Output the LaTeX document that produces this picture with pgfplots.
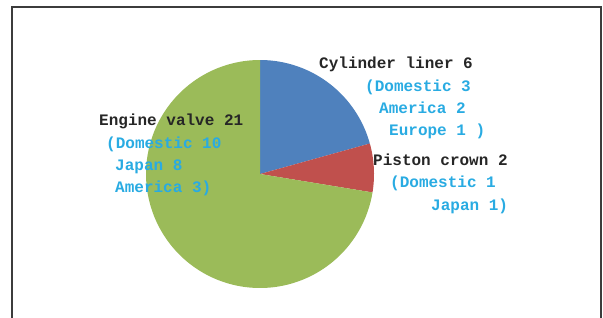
\documentclass[border=0pt]{standalone}
\usepackage{pgfplots}
\pgfplotsset{compat=1.18}
\usepackage{pgfplotstable}
\usepackage{fontspec}
\setmainfont{Liberation Serif}
\newfontfamily\labfont{Liberation Mono}
\definecolor{pieblue}{HTML}{4F81BD}
\definecolor{piered}{HTML}{C0504D}
\definecolor{piegreen}{HTML}{9BBB59}
\definecolor{labblue}{RGB}{41,171,226}
\definecolor{framegray}{RGB}{60,60,60}

\pgfplotstableread{
part value
liner 6
crown 2
valve 21
}\piedata

\begin{document}
\begin{tikzpicture}
\pgfplotstablegetelem{0}{value}\of\piedata \let\va\pgfplotsretval
\pgfplotstablegetelem{1}{value}\of\piedata \let\vb\pgfplotsretval
\pgfplotstablegetelem{2}{value}\of\piedata \let\vc\pgfplotsretval
\pgfmathsetmacro\tot{\va+\vb+\vc}
\pgfmathsetmacro\aA{90}
\pgfmathsetmacro\aB{90-360*\va/\tot}
\pgfmathsetmacro\aC{\aB-360*\vb/\tot}
\pgfmathsetmacro\aD{\aC-360*\vc/\tot}
\begin{axis}[scale only axis, width=603bp, height=318bp,
  xmin=0, xmax=603, ymin=0, ymax=318, y dir=reverse,
  hide axis, clip=false]
\addplot[draw=none, fill=pieblue, domain=\aB:\aA, samples=80, variable=\t]
  ({260+114*cos(\t)},{174-114*sin(\t)}) -- (260,174) -- cycle;
\addplot[draw=none, fill=piered, domain=\aC:\aB, samples=40, variable=\t]
  ({260+114*cos(\t)},{174-114*sin(\t)}) -- (260,174) -- cycle;
\addplot[draw=none, fill=piegreen, domain=\aD:\aC, samples=200, variable=\t]
  ({260+114*cos(\t)},{174-114*sin(\t)}) -- (260,174) -- cycle;

\draw[framegray, line width=1.3bp] (12,318) -- (12,7) -- (601,7) -- (601,318);

\tikzset{lab/.style={anchor=base west, inner sep=0pt, font=\labfont\bfseries\fontsize{16bp}{18bp}\selectfont}}
\node[lab, text=black!85] at (319,68) {Cylinder liner 6};
\node[lab, text=labblue] at (365,91) {(Domestic 3};
\node[lab, text=labblue] at (379,113) {America 2};
\node[lab, text=labblue] at (389,135) {Europe 1 )};
\node[lab, text=black!85] at (373,165) {Piston crown 2};
\node[lab, text=labblue] at (390,187) {(Domestic 1};
\node[lab, text=labblue] at (431,210) {Japan 1)};
\node[lab, text=black!85] at (99,125) {Engine valve 21};
\node[lab, text=labblue] at (106,148) {(Domestic 10};
\node[lab, text=labblue] at (115,170) {Japan 8};
\node[lab, text=labblue] at (115,192) {America 3)};
\end{axis}
\pgfresetboundingbox
\path[use as bounding box] (current axis.south west) rectangle (current axis.north east);
\end{tikzpicture}
\end{document}
